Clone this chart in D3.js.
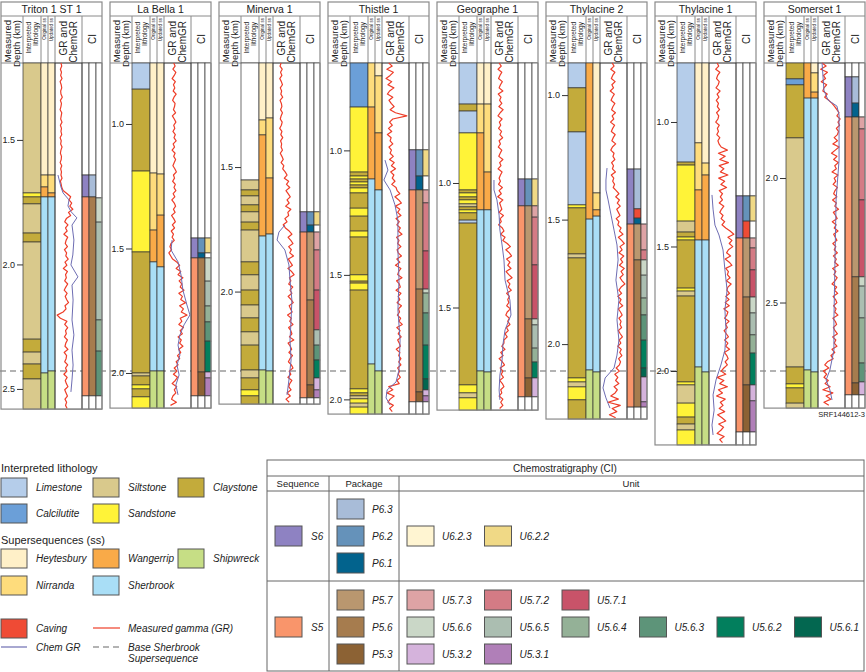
<!DOCTYPE html>
<html><head><meta charset="utf-8">
<script src="https://cdn.jsdelivr.net/npm/d3@7"></script>
<style>body{margin:0;background:#fff}svg{display:block}text{font-family:"Liberation Sans",Arial,Helvetica,sans-serif;fill:#222}</style>
</head><body>
<svg id="c" width="866" height="672"></svg>
<script>
// ---------------- DATA ----------------
const wells = ["Triton 1 ST 1","La Bella 1","Minerva 1","Thistle 1","Geographe 1","Thylacine 2","Thylacine 1","Somerset 1"];
const wellTop = [1.191,0.755,1.082,0.649,0.518,0.871,0.763,1.538];
const wellBottom = [2.581,2.141,2.452,2.059,1.912,2.301,2.297,2.924];
const baseSherbrook = [2.428,1.992,2.319,1.886,1.755,2.108,2.000,2.775];
const depthTicks = [[1.5,2.0,2.5],[1.0,1.5,2.0],[1.5,2.0],[1.0,1.5,2.0],[1.0,1.5],[1.0,1.5,2.0],[1.0,1.5,2.0],[2.0,2.5]];

// [top depth (km), code]; interval ends at next top or well bottom; "" = no data
const lithology = [
 [[1.191,"Si"],[1.713,"Sa"],[1.729,"Cl"],[1.757,"Si"],[1.874,"Cl"],[1.910,"Si"],[2.300,"Cl"],[2.352,"Si"],[2.400,"Cl"],[2.460,"Si"]],
 [[0.755,"Li"],[0.860,"Cl"],[1.189,"Sa"],[1.514,"Cl"],[2.000,"Si"],[2.012,"Cl"],[2.048,"Sa"],[2.064,"Cl"],[2.096,"Sa"]],
 [[1.082,""],[1.552,"Si"],[1.592,"Cl"],[1.616,"Si"],[1.652,"Cl"],[1.680,"Si"],[1.721,"Cl"],[1.753,"Si"],[1.881,"Cl"],[1.933,"Si"],[1.994,"Cl"],[2.054,"Si"],[2.106,"Cl"],[2.162,"Si"],[2.215,"Cl"],[2.315,"Si"],[2.347,"Cl"],[2.395,"Sa"],[2.419,"Cl"]],
 [[0.649,"Ca"],[0.826,"Sa"],[1.087,"Cl"],[1.103,"Sa"],[1.115,"Cl"],[1.127,"Sa"],[1.139,"Cl"],[1.151,"Sa"],[1.171,"Cl"],[1.232,"Sa"],[1.264,"Cl"],[1.324,"Sa"],[1.348,"Cl"],[1.500,"Sa"],[1.525,"Cl"],[1.533,"Sa"],[1.561,"Cl"],[1.958,"Sa"],[1.974,"Cl"],[1.986,"Si"],[1.998,"Sa"],[2.015,"Si"],[2.031,"Sa"]],
 [[0.518,"Li"],[0.683,"Cl"],[0.711,"Li"],[0.799,"Sa"],[1.028,"Cl"],[1.040,"Sa"],[1.056,"Cl"],[1.068,"Sa"],[1.084,"Si"],[1.096,"Cl"],[1.108,"Sa"],[1.120,"Cl"],[1.149,"Li"],[1.161,"Cl"],[1.811,"Sa"],[1.843,"Si"],[1.863,"Sa"]],
 [[0.871,"Li"],[0.971,"Cl"],[1.148,"Li"],[1.441,"Sa"],[1.453,"Cl"],[1.638,"Si"],[1.654,"Cl"],[2.136,"Sa"],[2.152,"Si"],[2.172,"Sa"],[2.224,"Cl"]],
 [[0.763,"Li"],[1.161,"Cl"],[1.173,"Sa"],[1.398,"Si"],[1.442,"Cl"],[1.462,"Sa"],[1.474,"Cl"],[1.667,"Sa"],[1.679,"Si"],[1.699,"Cl"],[2.044,"Sa"],[2.056,"Si"],[2.129,"Sa"],[2.185,"Cl"],[2.213,"Si"],[2.237,"Sa"]],
 [[1.538,"Cl"],[1.602,"Ca"],[1.626,"Cl"],[1.839,"Si"],[2.759,"Cl"],[2.827,"Sa"],[2.843,"Cl"],[2.904,"Si"]]
];
const ssOriginal = [
 [[1.191,"H"],[1.641,"N"],[1.689,"W"],[1.729,"Sh"],[2.436,"Sw"]],
 [[0.755,"H"],[1.197,"N"],[1.426,"W"],[1.554,"Sh"],[1.992,"Sw"]],
 [[1.082,"H"],[1.311,"N"],[1.371,"W"],[1.777,"Sh"],[2.315,"Sw"]],
 [[0.649,"N"],[0.826,"W"],[1.115,"Sh"],[1.858,"Sw"]],
 [[0.518,"H"],[0.683,"N"],[0.799,"W"],[1.108,"Sh"],[1.755,"Sw"]],
 [[0.871,"W"],[1.498,"Sh"],[2.104,"Sw"]],
 [[0.763,"H"],[1.084,"N"],[1.273,"W"],[1.474,"Sh"],[1.984,"Sw"]],
 [[1.538,"W"],[1.679,"Sh"],[2.771,"Sw"]]
];
const ssUpdated = [
 [[1.191,"H"],[1.641,"N"],[1.713,"W"],[1.729,"Sh"],[2.428,"Sw"]],
 [[0.755,"H"],[1.201,"N"],[1.366,"W"],[1.574,"Sh"],[1.992,"Sw"]],
 [[1.082,"H"],[1.303,"N"],[1.544,"W"],[1.769,"Sh"],[2.319,"Sw"]],
 [[0.649,"H"],[0.701,"N"],[0.930,"W"],[1.159,"Sh"],[1.886,"Sw"]],
 [[0.518,"H"],[0.683,"N"],[0.956,"W"],[1.108,"Sh"],[1.759,"Sw"]],
 [[0.871,"H"],[1.393,"N"],[1.461,"W"],[1.486,"Sh"],[2.112,"Sw"]],
 [[0.763,"H"],[1.165,"N"],[1.213,"W"],[1.474,"Sh"],[2.004,"Sw"]],
 [[1.538,"H"],[1.578,"N"],[1.655,"W"],[1.679,"Sh"],[2.779,"Sw"]]
];
const ciSequence = [
 [[1.191,""],[1.641,"S6"],[1.729,"S5"],[2.528,""]],
 [[0.755,""],[1.458,"S6"],[1.538,"S5"],[2.092,""]],
 [[1.082,""],[1.680,"S6"],[1.761,"S5"],[2.427,""]],
 [[0.649,""],[0.998,"S6"],[1.159,"S5"],[2.010,""]],
 [[0.518,""],[0.984,"S6"],[1.092,"S5"],[1.859,""]],
 [[0.871,""],[1.297,"S6"],[1.518,"S5"],[2.253,""]],
 [[0.763,""],[1.297,"S6"],[1.466,"S5"],[2.245,""]],
 [[1.538,""],[1.594,"S6"],[1.755,"S5"],[2.871,""]]
];
const ciPackage = [
 [[1.191,""],[1.641,"P6.3"],[1.729,"P5.6"],[2.528,""]],
 [[0.755,""],[1.458,"P6.2"],[1.518,"P6.1"],[1.538,"P5.6"],[1.996,"P5.3"],[2.092,""]],
 [[1.082,""],[1.680,"P6.2"],[1.733,"P6.1"],[1.761,"P5.7"],[2.034,"P5.6"],[2.375,"P5.3"],[2.427,""]],
 [[0.649,""],[0.998,"P6.2"],[1.103,"P6.1"],[1.159,"P5.7"],[1.557,"P5.6"],[1.970,"P5.3"],[2.010,""]],
 [[0.518,""],[0.984,"P6.2"],[1.092,"P5.7"],[1.546,"P5.6"],[1.783,"P5.3"],[1.859,""]],
 [[0.871,""],[1.297,"P6.3"],[1.457,"Cv"],[1.494,"P6.1"],[1.518,"P5.7"],[1.662,"P5.6"],[2.253,""]],
 [[0.763,""],[1.297,"P6.2"],[1.398,"Cv"],[1.466,"P5.7"],[1.703,"P5.6"],[2.056,"P5.3"],[2.245,""]],
 [[1.538,""],[1.594,"P6.3"],[1.699,"P6.1"],[1.755,"P5.7"],[2.397,"P5.6"],[2.823,"P5.3"],[2.871,""]]
];
const ciUnit = [
 [[1.191,""],[1.733,"U5.6.6"],[1.830,"U5.6.5"],[2.223,"U5.6.4"],[2.348,"U5.6.3"],[2.528,""]],
 [[0.755,""],[1.458,"U6.2.2"],[1.518,""],[1.538,"U5.6.6"],[1.631,"U5.6.5"],[1.731,"U5.6.4"],[1.795,"U5.6.3"],[1.872,"U5.6.2"],[1.996,"U5.3.2"],[2.020,"U5.3.1"],[2.092,""]],
 [[1.082,""],[1.680,"U6.2.2"],[1.733,""],[1.761,"U5.7.3"],[1.833,"U5.7.2"],[1.994,"U5.7.1"],[2.154,"U5.6.5"],[2.215,"U5.6.3"],[2.275,"U5.6.2"],[2.347,"U5.3.2"],[2.395,"U5.3.1"],[2.427,""]],
 [[0.649,""],[0.998,"U6.2.2"],[1.103,""],[1.159,"U5.7.3"],[1.211,"U5.7.2"],[1.404,"U5.7.1"],[1.557,"U5.6.6"],[1.573,"U5.6.4"],[1.653,"U5.6.3"],[1.782,"U5.6.2"],[1.918,"U5.6.1"],[1.962,"U5.3.2"],[1.986,"U5.3.1"],[2.010,""]],
 [[0.518,""],[0.984,"U6.2.2"],[1.092,"U5.7.3"],[1.137,"U5.7.2"],[1.329,"U5.7.1"],[1.546,"U5.6.6"],[1.570,"U5.6.5"],[1.663,"U5.6.4"],[1.719,"U5.6.2"],[1.783,"U5.3.2"],[1.859,""]],
 [[0.871,""],[1.518,"U5.7.3"],[1.622,"U5.7.2"],[1.662,"U5.6.6"],[1.723,"U5.6.5"],[1.815,"U5.6.4"],[1.883,"U5.6.3"],[1.984,"U5.6.2"],[2.096,"U5.6.1"],[2.132,"U5.3.2"],[2.232,"U5.3.1"],[2.253,""]],
 [[0.763,""],[1.297,"U6.2.2"],[1.398,""],[1.466,"U5.7.3"],[1.506,"U5.7.2"],[1.594,"U5.7.1"],[1.703,"U5.6.6"],[1.767,"U5.6.5"],[1.855,"U5.6.4"],[1.928,"U5.6.2"],[2.056,"U5.3.2"],[2.120,"U5.3.1"],[2.245,""]],
 [[1.538,""],[1.755,"U5.7.3"],[1.803,"U5.7.2"],[2.088,"U5.7.1"],[2.397,"U5.6.6"],[2.434,"U5.6.5"],[2.562,"U5.6.4"],[2.743,"U5.6.3"],[2.819,"U5.3.2"],[2.871,""]]
];
// measured gamma, read every 0.0125 km from well top, in % of track width
const grStep = 0.0125;
const grValues = [
 [22,25,20,24,21,26,19,23,25,21,22,27,20,24,22,19,25,23,21,26,20,24,22,25,19,23,21,26,22,20,24,23,19,25,21,24,22,26,20,23,25,
  30,45,58,52,62,55,66,50,58,
  42,36,48,39,45,33,47,41,38,46,35,43,40,49,37,44,31,46,39,42,36,47,40,34,45,38,43,50,37,41,30,8,20,44,36,47,39,42,35,46,40,37,48,34,43,41,36,47,39,44,33,45,38,42,48,36,41,46,37,43,39,45],
 [36,41,33,44,38,30,42,35,40,34,45,37,32,41,39,35,43,31,38,44,36,40,33,42,37,45,34,39,30,41,36,43,38,33,40,46,35,39,32,42,37,44,34,40,29,38,43,35,41,28,36,42,31,39,27,35,30,38,26,
  22,28,18,25,32,
  48,58,45,62,52,70,56,66,60,74,55,68,62,80,58,72,64,85,60,
  66,55,72,60,68,52,64,58,70,55,62,50,58,
  45,52,38,48,35,50,42,30,47,38,44,33,28,46,24],
 [30,26,34,28,33,25,31,35,27,32,29,36,26,31,33,28,35,30,27,34,31,25,33,29,36,28,32,30,35,27,33,38,30,40,36,
  45,52,42,58,50,62,48,56,64,52,60,47,66,55,58,44,52,38,46,
  60,70,56,66,74,58,68,62,76,57,64,72,55,69,78,61,66,58,73,63,70,56,67,75,60,65,71,54,68,62,74,58,66,70,61,77,56,64,69,59,72,63,57,68,74,60,66,55,70,62,58,67,52,64,
  48,60],
 [25,38,18,42,30,15,36,22,44,28,20,40,26,34,
  45,30,50,92,40,
  28,38,24,36,20,34,30,40,26,35,
  30,42,28,45,35,50,32,44,38,48,36,52,
  56,66,48,62,72,50,66,58,70,52,64,55,68,60,74,54,63,58,70,56,
  60,72,55,66,50,70,62,58,74,54,64,68,52,70,60,66,56,72,61,65,57,69,63,75,55,67,60,71,58,64,68,53,66,62,70,
  62,70,58,65,60,68,55,64,
  25,40,18,45,30,22,42,28,38],
 [30,38,26,40,33,28,42,35,30,44,27,37,32,40,29,45,34,26,41,31,36,28,39,33,43,30,35,27,40,34,29,44,32,37,26,41,35,30,
  35,28,42,30,38,25,44,32,36,40,30,46,34,38,28,42,48,36,52,44,
  60,72,55,68,76,58,70,62,74,56,66,78,60,70,64,75,58,68,62,
  66,58,72,60,55,68,62,70,57,64,52,60,48,
  48,40,52,36,45,30,42,50,34,44,38,46,32,42,48,36,40,30,44,
  36,44,32],
 [45,52,40,55,47,42,56,44,50,38,53,46,41,55,48,43,57,45,51,39,54,47,42,56,49,44,58,46,40,52,48,55,43,50,46,57,42,51,47,54,49,
  60,70,58,72,64,75,62,68,74,60,70,66,78,
  72,85,68,80,90,74,82,70,88,76,84,72,90,78,86,74,82,92,78,
  70,80,66,78,72,84,68,76,82,70,78,74,80,68,75,83,71,77,66,79,73,81,69,76,72,
  60,72,55,66,58,70,52,64,56,
  40,68,30,75,45,62,35,58],
 [30,36,25,40,32,28,38,34,26,41,30,37,27,35,31,39,28,36,33,25,38,31,35,29,40,33,37,
  45,68,35,60,40,72,38,55,42,70,36,58,44,65,38,50,
  42,50,38,55,46,40,52,45,58,48,62,
  78,92,70,85,75,88,72,
  65,80,60,75,85,62,72,68,78,64,82,70,66,76,62,74,
  60,75,55,70,66,58,74,62,68,56,64,72,58,70,62,76,57,66,71,60,68,55,
  45,62,30,55,40,68,35,50,28,60,42,52,38,58,32,48,62,36,54,44,30,56,40,50],
 [15,30,10,35,20,28,12,32,22,18,34,25,
  40,52,62,70,
  78,70,82,74,80,68,76,72,
  60,72,55,78,64,50,70,58,75,62,68,52,74,60,66,56,72,63,58,70,54,68,62,76,57,65,71,53,67,60,74,58,64,70,55,66,60,72,57,68,62,75,54,66,59,71,63,52,69,61,73,56,65,70,58,67,62,74,55,64,69,57,63,72,54,66,60,70,52,62,48,56,
  35,25,40,20,32,22,38,26,
  45,18,55,30,48,22,40]
];
// chemical GR: [depth km, % of track width]
const chemGR = [
 [[1.641,11],[1.689,22],[1.713,30],[1.741,52],[1.765,48],[1.789,60],[1.813,81],[1.842,63],[1.902,70],[1.962,66],[2.002,59],[2.050,85],[2.083,63],[2.143,67],[2.223,63],[2.283,70],[2.344,63],[2.404,67],[2.464,63],[2.512,59]],
 [[1.466,30],[1.506,26],[1.554,52],[1.606,63],[1.667,70],[1.727,85],[1.767,96],[1.807,74],[1.847,59],[1.888,52],[1.928,59],[1.968,48],[2.008,56],[2.048,44],[2.088,52]],
 [[1.733,44],[1.761,22],[1.793,15],[1.833,44],[1.893,59],[1.954,63],[2.034,70],[2.114,67],[2.195,63],[2.275,67],[2.355,59],[2.415,52]],
 [[1.039,11],[1.079,22],[1.119,7],[1.159,30],[1.219,48],[1.280,59],[1.400,59],[1.521,63],[1.641,59],[1.762,67],[1.882,63],[1.930,52],[1.962,19],[1.994,15],[2.023,30]],
 [[0.988,11],[1.028,11],[1.068,22],[1.129,30],[1.189,33],[1.249,41],[1.309,48],[1.390,52],[1.470,70],[1.530,74],[1.590,52],[1.651,44],[1.711,41],[1.771,33],[1.831,30],[1.871,33]],
 [[1.293,26],[1.341,22],[1.381,22],[1.421,30],[1.482,41],[1.542,52],[1.602,63],[1.662,67],[1.743,59],[1.823,70],[1.903,63],[1.984,70],[2.044,63],[2.096,52],[2.136,19],[2.176,11],[2.216,22],[2.257,37]],
 [[1.293,11],[1.350,15],[1.414,22],[1.454,37],[1.514,52],[1.594,59],[1.675,67],[1.755,59],[1.835,63],[1.916,59],[1.976,44],[2.036,26],[2.096,15],[2.157,19],[2.217,11],[2.257,15]],
 [[1.538,15],[1.647,22],[1.687,37],[1.711,70],[1.747,78],[1.928,78],[2.088,67],[2.329,63],[2.570,59],[2.691,59],[2.771,44],[2.811,30],[2.851,44],[2.891,52]]
];
// legend content
const lithLegend = [["Limestone","Li"],["Siltstone","Si"],["Claystone","Cl"],["Calcilutite","Ca"],["Sandstone","Sa"]];
const ssLegend = [["Heytesbury","H"],["Wangerrip","W"],["Shipwreck","Sw"],["Nirranda","N"],["Sherbrook","Sh"]];
const s6Packages = ["P6.3","P6.2","P6.1"];
const s5Packages = ["P5.7","P5.6","P5.3"];
const s6Units = [["U6.2.3","U6.2.2"]];
const s5Units = [["U5.7.3","U5.7.2","U5.7.1"],["U5.6.6","U5.6.5","U5.6.4","U5.6.3","U5.6.2","U5.6.1"],["U5.3.2","U5.3.1"]];

// ---------------- STYLE ----------------
const color = {
 Li:"#b5cdea",Ca:"#6b9fd8",Si:"#d9c98c",Sa:"#fff338",Cl:"#c3ab3b",
 H:"#fff0c8",N:"#fedc7c",W:"#f9aa48",Sh:"#a9def6",Sw:"#c6de85",Cv:"#ef4b35",
 S6:"#8e82c2",S5:"#f9956b",
 "P6.3":"#a8bcd8","P6.2":"#6592ba","P6.1":"#02638d","P5.7":"#b9976f","P5.6":"#a67c4e","P5.3":"#8c6234",
 "U6.2.3":"#fff5d2","U6.2.2":"#f0d986","U5.7.3":"#dea3a5","U5.7.2":"#d47b85","U5.7.1":"#c85369",
 "U5.6.6":"#cad7c7","U5.6.5":"#abbeb1","U5.6.4":"#94b197","U5.6.3":"#5d9479","U5.6.2":"#027f5d","U5.6.1":"#036750",
 "U5.3.2":"#d5b3dc","U5.3.1":"#b07fb8","":"#ffffff"
};
const grColor = "#ee3d28", chemColor = "#6e6db3", frameColor = "#8a8a8a", cellStroke = "#333";

const svg = d3.select("#c");
const panelX = d3.scaleLinear().domain([0,1]).range([1,110]);
const yTop = 63, yDatum = 371, yTitle = 16;
const rel = d3.scaleLinear().domain([-1.2369,0]).range([yTop,yDatum]);

// datum line (base Sherbrook)
svg.append("line").attr("x1",0).attr("x2",866).attr("y1",rel(0)).attr("y2",rel(0))
  .attr("stroke","#9a9a9a").attr("stroke-width",1.6).attr("stroke-dasharray","6,4");

function intervals(list, bottom){
  return list.map((e,k)=>({top:e[0], bot: k<list.length-1? list[k+1][0] : bottom, code:e[1]}));
}

wells.forEach((name,i)=>{
  const L = panelX(i);
  const top = wellTop[i], bot = wellBottom[i], base = baseSherbrook[i];
  const ys = d3.scaleLinear().domain([top,bot]).range([rel(top-base), rel(bot-base)]);
  const yB = ys(bot);
  const g = svg.append("g");
  const col = {depth:[0,22],lith:[22,40],orig:[40,47],upd:[47,54],gr:[54,81],s:[81,88],p:[88,95],u:[95,101]};
  // header
  g.append("text").attr("x",L+50.5).attr("y",12.5).attr("text-anchor","middle").attr("font-size",10.5).text(name);
  const hdr = (x,y,lines,fs,anchor,lh)=>{
    const t = g.append("text").attr("transform",`translate(${x},${y}) rotate(-90)`).attr("text-anchor",anchor).attr("font-size",fs);
    lines.forEach((s,k)=>t.append("tspan").attr("x",0).attr("y",(k-(lines.length-1)/2)*lh + fs*0.35).text(s));
  };
  hdr(L+11,20,["Measured","Depth (km)"],9.5,"end",9.5);
  hdr(L+31,22,["Interpreted","lithology"],6.5,"end",7);
  hdr(L+43.5,18,["Original ss"],4.6,"end",5);
  hdr(L+50.5,18,["Updated ss"],4.6,"end",5);
  hdr(L+67.5,21,["GR and","ChemGR"],10,"end",10);
  hdr(L+91,39,["CI"],10,"middle",10);
  [col.lith[0],col.orig[0],col.upd[0],col.gr[0],col.s[0]].forEach(c=>{
    g.append("line").attr("x1",L+c).attr("x2",L+c).attr("y1",yTitle).attr("y2",yTop).attr("stroke",frameColor);
  });
  g.append("line").attr("x1",L).attr("x2",L+101).attr("y1",yTitle).attr("y2",yTitle).attr("stroke",frameColor);
  g.append("line").attr("x1",L).attr("x2",L+101).attr("y1",yTop).attr("y2",yTop).attr("stroke",frameColor);

  const drawCol = (list,c)=>{
    g.append("g").selectAll("rect").data(intervals(list,bot)).join("rect")
      .attr("x",L+c[0]).attr("width",c[1]-c[0])
      .attr("y",d=>ys(d.top)).attr("height",d=>ys(d.bot)-ys(d.top))
      .attr("fill",d=>color[d.code]).attr("stroke",cellStroke).attr("stroke-width",0.7);
  };
  drawCol(lithology[i],col.lith);
  drawCol(ssOriginal[i],col.orig);
  drawCol(ssUpdated[i],col.upd);
  drawCol(ciSequence[i],col.s);
  drawCol(ciPackage[i],col.p);
  drawCol(ciUnit[i],col.u);
  // GR track
  const gx = d3.scaleLinear().domain([0,100]).range([L+col.gr[0], L+col.gr[1]]);
  g.append("rect").attr("x",L+col.gr[0]).attr("y",yTop).attr("width",col.gr[1]-col.gr[0]).attr("height",yB-yTop)
    .attr("fill","none").attr("stroke",cellStroke).attr("stroke-width",0.7);
  const grLine = d3.line().x(d=>gx(d.v)).y(d=>ys(d.d));
  const grPts = grValues[i].map((v,k)=>({d:top+k*grStep, v})).filter(p=>p.d<=bot);
  g.append("path").attr("d",grLine(grPts)).attr("fill","none").attr("stroke",grColor).attr("stroke-width",1.2).attr("stroke-linejoin","round");
  g.append("path").attr("d",grLine(chemGR[i].map(p=>({d:p[0],v:p[1]})))).attr("fill","none").attr("stroke",chemColor).attr("stroke-width",1);
  // depth axis
  const ax = g.append("g").attr("transform",`translate(${L+col.lith[0]},0)`)
    .call(d3.axisLeft(ys).tickValues(depthTicks[i]).tickSize(6).tickPadding(2).tickFormat(d3.format(".1f")));
  ax.select(".domain").remove();
  ax.selectAll("text").attr("font-size",9).style("font-family","Liberation Sans, Arial, sans-serif").attr("fill","#222");
  ax.selectAll("line").attr("stroke","#333");
  // frame
  g.append("rect").attr("x",L).attr("y",2).attr("width",101).attr("height",yB-2).attr("fill","none").attr("stroke",frameColor).attr("stroke-width",1.2);
});

svg.append("text").attr("x",865).attr("y",417).attr("text-anchor","end").attr("font-size",7.5).attr("fill","#444").text("SRF144612-3");

// ---------------- LEGEND ----------------
const leg = svg.append("g");
const sw = (x,y,c,w=26,h=19)=>leg.append("rect").attr("x",x).attr("y",y).attr("width",w).attr("height",h).attr("fill",color[c]).attr("stroke","#555").attr("stroke-width",1);
const it = (x,y,s,fs=10)=>leg.append("text").attr("x",x).attr("y",y).attr("font-size",fs).attr("font-style","italic").attr("fill","#333").text(s);
const colX = [1,93,178];
leg.append("text").attr("x",1).attr("y",472).attr("font-size",11).attr("fill","#333").text("Interpreted lithology");
lithLegend.forEach((e,k)=>{const x=colX[k%3], y=[478,504][Math.floor(k/3)]; sw(x,y,e[1]); it(x+35,y+13,e[0]);});
leg.append("text").attr("x",1).attr("y",544).attr("font-size",11).attr("fill","#333").text("Supersequences (ss)");
ssLegend.forEach((e,k)=>{const x=colX[k%3], y=[549,576][Math.floor(k/3)]; sw(x,y,e[1]); it(x+35,y+13,e[0]);});
sw(1,619,"Cv"); it(36,632,"Caving");
leg.append("line").attr("x1",93).attr("x2",120).attr("y1",628).attr("y2",628).attr("stroke",grColor).attr("stroke-width",1.2);
it(128,632,"Measured gamma (GR)");
leg.append("line").attr("x1",1).attr("x2",27).attr("y1",647).attr("y2",647).attr("stroke",chemColor).attr("stroke-width",1.2);
it(36,651,"Chem GR");
leg.append("line").attr("x1",93).attr("x2",120).attr("y1",647).attr("y2",647).attr("stroke","#9a9a9a").attr("stroke-width",1.5).attr("stroke-dasharray","6,4");
it(128,651,"Base Sherbrook"); it(128,662,"Supersequence");

// chemostratigraphy table
const bx0=267, bx1=864, by0=460, by1=671;
const tc="#666";
leg.append("rect").attr("x",bx0).attr("y",by0).attr("width",bx1-bx0).attr("height",by1-by0).attr("fill","none").attr("stroke",tc);
[476,491,581].forEach(y=>leg.append("line").attr("x1",bx0).attr("x2",bx1).attr("y1",y).attr("y2",y).attr("stroke",tc));
[329,399].forEach(x=>leg.append("line").attr("x1",x).attr("x2",x).attr("y1",476).attr("y2",by1).attr("stroke",tc));
leg.append("text").attr("x",565).attr("y",472).attr("text-anchor","middle").attr("font-size",10).attr("fill","#333").text("Chemostratigraphy (CI)");
leg.append("text").attr("x",298).attr("y",487).attr("text-anchor","middle").attr("font-size",9.5).attr("fill","#333").text("Sequence");
leg.append("text").attr("x",364).attr("y",487).attr("text-anchor","middle").attr("font-size",9.5).attr("fill","#333").text("Package");
leg.append("text").attr("x",631).attr("y",487).attr("text-anchor","middle").attr("font-size",9.5).attr("fill","#333").text("Unit");
sw(275,526,"S6",27,20); it(311,540,"S6");
sw(275,617,"S5",27,20); it(311,631,"S5");
s6Packages.forEach((p,k)=>{const y=499+k*27; sw(337,y,p,27,20); it(372,y+14,p);});
s5Packages.forEach((p,k)=>{const y=590+k*27; sw(337,y,p,27,20); it(372,y+14,p);});
s6Units.forEach(row=>row.forEach((u,k)=>{const x=407+k*77.5; sw(x,526,u,27,20); it(x+35,540,u);}));
s5Units.forEach((row,r)=>row.forEach((u,k)=>{const x=407+k*77.5, y=590+r*27; sw(x,y,u,27,20); it(x+35,y+14,u);}));
</script>
</body></html>
